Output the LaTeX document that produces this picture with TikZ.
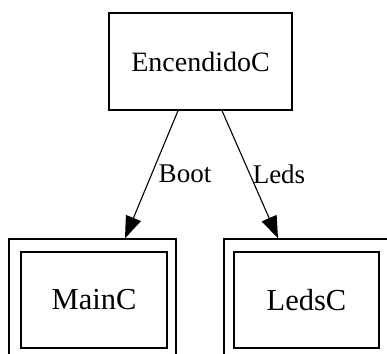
\documentclass[tikz,border=0pt]{standalone}
\usepackage{fontspec}
\setmainfont{Liberation Serif}
\usetikzlibrary{arrows.meta}
\begin{document}
\begin{tikzpicture}[x=1pt,y=1pt,
  box/.style={draw, line width=1.4pt, inner sep=0pt, font=\fontsize{28}{30}\selectfont},
  childbox/.style={box, font=\fontsize{30.5}{32}\selectfont},
  shell/.style={draw, line width=1.4pt, inner sep=0pt},
  link/.style={line width=1.1pt, -{Triangle[length=22pt,width=16pt]}},
  lbl/.style={font=\fontsize{27}{29}\selectfont, inner sep=0pt}]
  \useasboundingbox (0,0) rectangle (387,353);
  \clip (0,0) rectangle (387,353);
  % parent state
  \node[box, minimum width=183pt, minimum height=97pt] (enc) at (200.5,291.5) {EncendidoC};
  % child states, each inside an outer frame
  \node[shell, minimum width=167pt, minimum height=134pt] (mainout) at (92.5,47) {};
  \node[childbox, minimum width=146pt, minimum height=96pt] (main) at (94,53) {MainC};
  \node[shell, minimum width=176pt, minimum height=134pt] (ledsout) at (312,47) {};
  \node[childbox, minimum width=145pt, minimum height=96pt] (leds) at (306.5,53) {LedsC};
  % transitions
  \draw[link] ([xshift=-22.5pt]enc.south) -- ([xshift=32.5pt]mainout.north);
  \draw[link] ([xshift=21.5pt]enc.south) -- ([xshift=-34pt]ledsout.north);
  \node[lbl] (lboot) at (185,179) {Boot};
  \node[lbl] (lleds) at (279,179) {Leds};
\end{tikzpicture}
\end{document}
